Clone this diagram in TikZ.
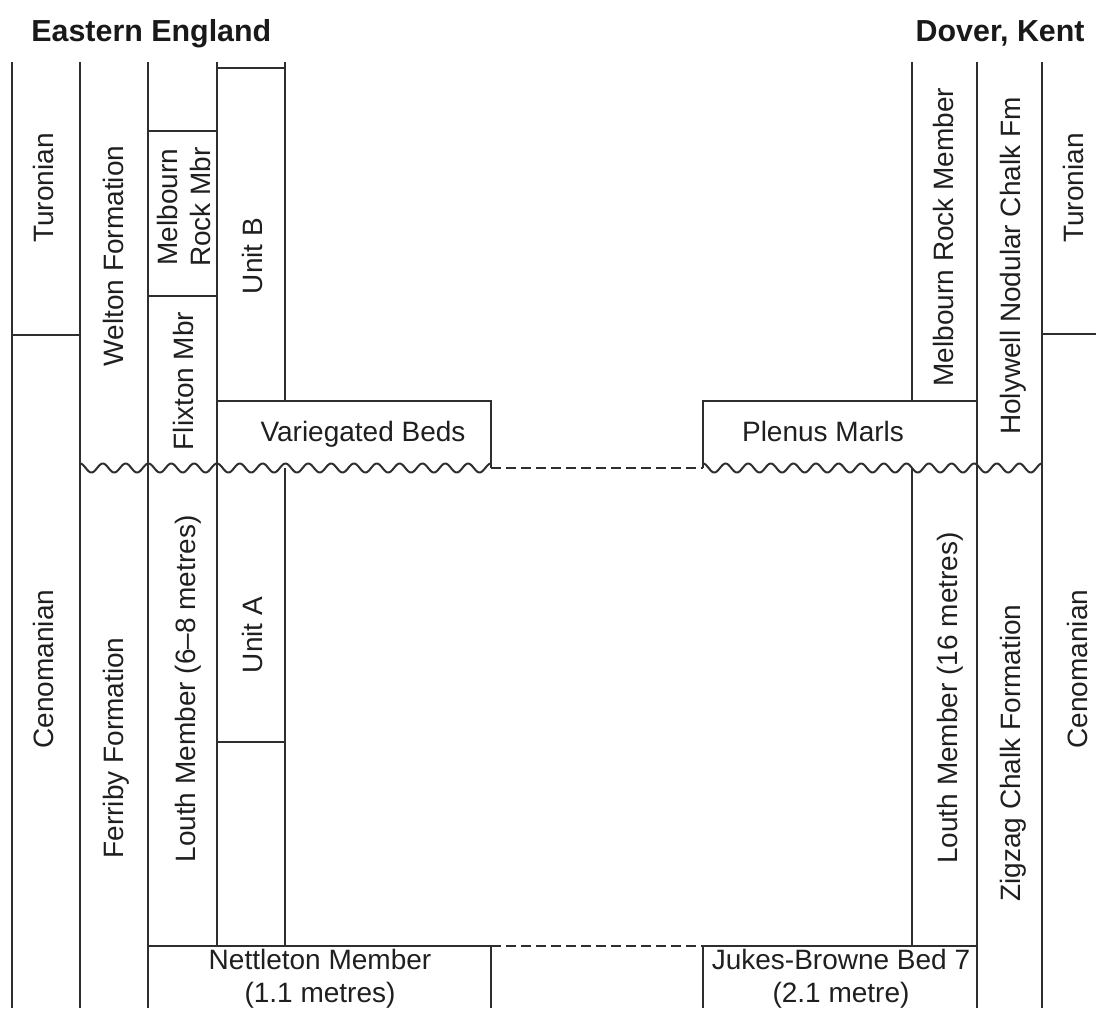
\documentclass[tikz,border=0pt]{standalone}
\usepackage{fontspec}
\setmainfont{Liberation Sans}
\begin{document}
\begin{tikzpicture}[x=0.5pt,y=-0.5pt,
  ln/.style={line width=1pt, draw=black!82},
  dsh/.style={ln, dash pattern=on 5pt off 2.5pt},
  lbl/.style={font=\fontsize{14}{17}\selectfont, text=black!88, inner sep=0pt},
  vlbl/.style={lbl, rotate=90, anchor=base},
  hlbl/.style={lbl, anchor=base},
  ttl/.style={font=\fontsize{15.2}{18}\selectfont\bfseries, text=black!90, inner sep=0pt}]
\useasboundingbox (0,0) rectangle (1096,1008);

% titles
\node[ttl, anchor=base west] (tE) at (31,41) {Eastern England};
\node[ttl, anchor=base east] (tD) at (1085,41) {Dover, Kent};

% ---------- left column lines ----------
\draw[ln] (12,62) -- (12,1008);
\draw[ln] (80,62) -- (80,1008);
\draw[ln] (148,62) -- (148,1008);
\draw[ln] (217,62) -- (217,946);
\draw[ln] (285,62) -- (285,401);
\draw[ln] (285,468) -- (285,946);
\draw[ln] (12,335) -- (80,335);
\draw[ln] (148,131) -- (217,131);
\draw[ln] (148,296) -- (217,296);
\draw[ln] (217,68) -- (285,68);
\draw[ln] (217,742) -- (285,742);
% Variegated Beds box
\draw[ln] (217,401) -- (491,401) -- (491,468);
% Nettleton box
\draw[ln] (148,946) -- (491,946) -- (491,1008);

% ---------- right column lines ----------
\draw[ln] (912,62) -- (912,401);
\draw[ln] (912,468) -- (912,946);
\draw[ln] (977,62) -- (977,1008);
\draw[ln] (1042,62) -- (1042,1008);
\draw[ln] (1042,334) -- (1096,334);
% Plenus Marls box
\draw[ln] (703,468) -- (703,401) -- (977,401);
% Jukes-Browne box
\draw[ln] (703,1008) -- (703,946) -- (977,946);

% dashed correlation lines
\draw[dsh] (491,468) -- (703,468);
\draw[dsh] (491,946) -- (703,946);

% wavy unconformity
\draw[ln, line join=round] plot[domain=80:491, samples=360] (\x, {468 - 4.5*cos(15.768*(\x-80))});
\draw[ln, line join=round] plot[domain=703:1042, samples=300] (\x, {468 - 4.5*cos(15.929*(\x-703))});

% ---------- left labels ----------
\node[vlbl] (turL) at (53,188) {Turonian};
\node[vlbl] (cenL) at (53,669) {Cenomanian};
\node[vlbl] (wel) at (123,256) {Welton Formation};
\node[vlbl] (fer) at (123,748) {Ferriby Formation};
\node[lbl, rotate=90, align=center, font=\fontsize{14}{16.5}\selectfont, anchor=center] (mrm) at (183.5,207) {Melbourn\\Rock Mbr};
\node[vlbl] (fli) at (193,381) {Flixton Mbr};
\node[vlbl] (louL) at (195,689) {Louth Member (6–8 metres)};
\node[vlbl] (unB) at (262,256) {Unit B};
\node[vlbl] (unA) at (262,635) {Unit A};
\node[hlbl] (var) at (363,441) {Variegated Beds};
\node[lbl, align=center, anchor=center, font=\fontsize{14}{16.5}\selectfont] (net) at (320,979) {Nettleton Member\\(1.1 metres)};

% ---------- right labels ----------
\node[vlbl] (mrmR) at (953,237) {Melbourn Rock Member};
\node[vlbl] (hol) at (1020,266) {Holywell Nodular Chalk Fm};
\node[vlbl] (turR) at (1083,188) {Turonian};
\node[vlbl] (louR) at (957,698) {Louth Member (16 metres)};
\node[vlbl] (zig) at (1020,753) {Zigzag Chalk Formation};
\node[vlbl] (cenR) at (1087,669) {Cenomanian};
\node[hlbl] (ple) at (823,441) {Plenus Marls};
\node[lbl, align=center, anchor=center, font=\fontsize{14}{16.5}\selectfont] (juk) at (841,979) {Jukes-Browne Bed 7\\(2.1 metre)};
\end{tikzpicture}
\end{document}
